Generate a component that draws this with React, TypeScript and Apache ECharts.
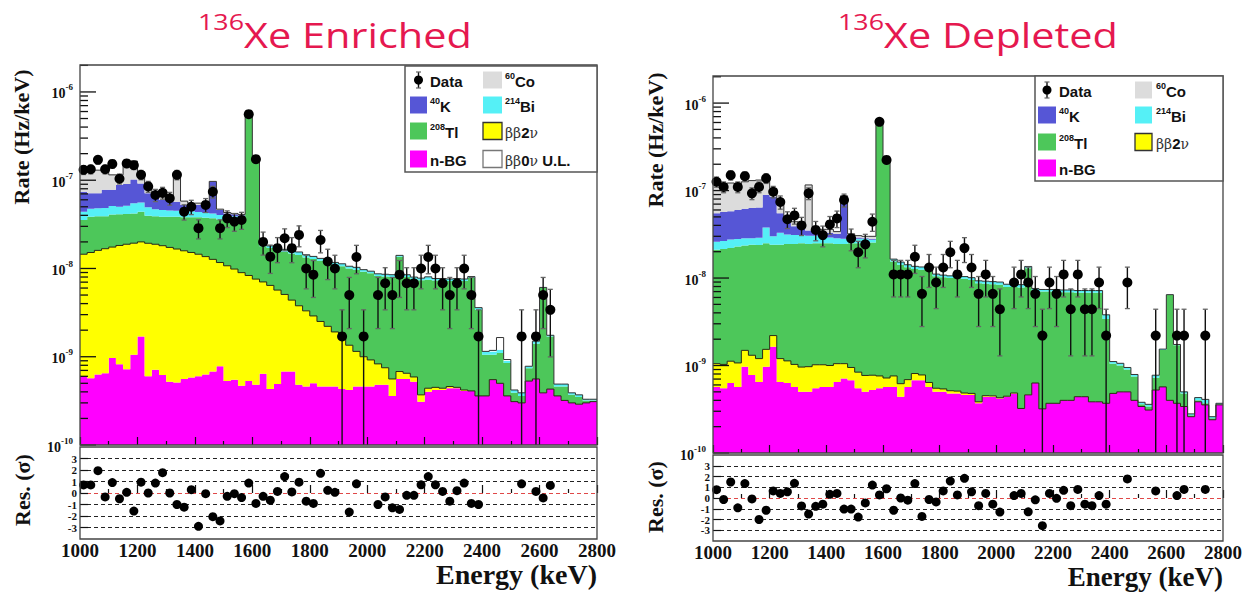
import { useEffect, useRef } from 'react';
import * as echarts from 'echarts';

// Energy binning shared by both spectra
const E_MIN = 1000;
const E_MAX = 2800;
const BIN_WIDTH = 25;
const N_BINS = 72;
// All rate arrays below are in units of 1e-10 Hz/keV
const RATE_UNIT = 1e-10;
const Y_MIN = 1e-10;

// ---------- 136Xe enriched ----------
const enrNBG = [
  6.0, 5.7, 6.3, 6.5, 9.7, 8.2, 7.2, 10.5, 17, 6.0,
  7.1, 6.2, 5.2, 5.1, 5.6, 5.8, 6.0, 6.3, 6.8, 7.8,
  5.3, 5.5, 4.7, 5.3, 4.8, 6.4, 4.3, 4.9, 6.8, 6.8,
  4.8, 4.6, 5.0, 4.6, 4.6, 4.6, 4.3, 4.2, 4.6, 4.6,
  4.6, 4.8, 4.8, 3.6, 5.6, 5.6, 5.2, 3.1, 4.0, 4.2,
  4.2, 4.4, 4.4, 4.1, 4.1, 3.6, 3.6, 5.5, 5.0, 3.6,
  3.1, 3.0, 5.3, 5.6, 3.9, 4.3, 3.6, 3.2, 3.0, 2.9,
  3.0, 3.1,
];
const enrBB2v = [
  139, 146, 154, 161, 165, 174, 181, 183, 183, 187,
  181, 175, 168, 161, 153, 146, 139, 130, 120, 109,
  102, 93, 85, 78, 71, 64, 60, 52, 44, 37,
  33, 28.5, 24, 20.5, 17.5, 14.5, 11.7, 9.3, 6.9, 5.4,
  4.6, 3.5, 2.7, 2.0, 1.2, 0.9, 0.7, 0.6, 0.4, 0.3,
  0.2, 0.2, 0.1, 0.1, 0, 0, 0, 0, 0, 0,
  0, 0, 0, 0, 0, 0, 0, 0, 0, 0,
  0, 0,
];
const enrTl208 = [
  210, 233, 230, 222, 235, 228, 227, 226, 240, 202,
  202, 204, 212, 219, 221, 228, 235, 239, 243, 243,
  253, 257, 265, 5420, 1700, 108, 106, 105, 104, 104,
  104, 100, 99, 97, 96, 91, 90, 86.5, 85.5, 82,
  79, 73.7, 73.5, 74.4, 129, 73.5, 70, 70, 70, 68.5,
  68.6, 67.4, 68.5, 67.8, 73.9, 30.4, 6.9, 5.0, 6.0, 4.9,
  0.8, 0.6, 2.1, 8.4, 56.1, 12.7, 1.0, 1.4, 0.7, 0.6,
  0.2, 0.1,
];
const enrBi214 = [
  85, 90, 90, 95, 100, 90, 100, 130, 120, 100,
  80, 75, 70, 65, 60, 65, 55, 50, 50, 45,
  40, 35, 30, 30, 20, 12, 10, 10, 10, 10,
  12, 10, 9, 8, 8, 7, 7, 6, 6, 5,
  5, 5, 5, 5, 5, 5, 4, 4, 6, 4,
  4, 4, 4, 4, 3, 2, 1, 1, 1, 0.5,
  0.3, 0.3, 0.4, 1, 1, 0.5, 0.3, 0.3, 0.2, 0.2,
  0.1, 0.1,
];
const enrK40 = [
  300, 235, 230, 295, 270, 385, 390, 470, 360, 215,
  180, 140, 145, 120, 85, 80, 90, 75, 540, 55,
  20, 20, 15, 0, 0, 0, 0, 0, 0, 0,
  0, 0, 0, 0, 0, 0, 0, 0, 0, 0,
  0, 0, 0, 0, 0, 0, 0, 0, 0, 0,
  0, 0, 0, 0, 0, 0, 0, 0, 0, 0,
  0, 0, 0, 0, 0, 0, 0, 0, 0, 0,
  0, 0,
];
const enrCo60 = [
  510, 540, 590, 520, 370, 265, 745, 630, 330, 140,
  70, 80, 30, 630, 55, 25, 25, 20, 10, 10,
  10, 10, 10, 0, 0, 0, 0, 0, 0, 0,
  0, 0, 0, 0, 0, 0, 0, 0, 0, 0,
  0, 0, 0, 0, 0, 0, 0, 0, 0, 0,
  0, 0, 0, 0, 0, 0, 0, 0, 0, 0,
  0, 0, 0, 0, 0, 0, 0, 0, 0, 0,
  0, 0,
];
const enrBB0vUL = [
  0, 0, 0, 0, 0, 0, 0, 0, 0, 0,
  0, 0, 0, 0, 0, 0, 0, 0, 0, 0,
  0, 0, 0, 0, 0, 0, 0, 0, 0, 0,
  0, 0, 0, 0, 0, 0, 0, 0, 0, 0,
  0, 0, 0, 0, 0, 0, 0, 0, 0, 0,
  0, 0, 0, 0, 0, 0, 0, 0.3, 4.5, 0.3,
  0, 0, 0, 0, 0, 0, 0, 0, 0, 0,
  0, 0,
];
const enrData = [
  1310, 1330, 1700, 1330, 1530, 1040, 1550, 1480, 1150, 850,
  680, 720, 625, 1150, 440, 500, 286, 525, 740, 286,
  370, 340, 355, 5600, 1730, 200, 136, 170, 220, 170,
  240, 100, 85, 210, 120, 100, 17, 50, 135, 17,
  null, 50, 68, 50, 85, 68, 68, 100, 135, 100,
  68, 50, 68, 100, 50, 17, null, null, null, null,
  null, 17, null, 17, 50, 34, null, null, null, null,
  null, null,
];
const enrResidual = [
  0.7, 0.7, 1.94, -0.34, 0.91, -0.5, 0.06, -1.57, 0.94, 0,
  0.86, 1.77, 0, -1.0, -1.23, 0.29, -2.9, -0.06, -2.06, -2.43,
  -0.29, -0.06, -0.4, 0.86, -0.91, -0.29, -0.63, 0.14, 1.43, 0.09,
  0.94, -0.71, -0.91, 1.71, 0.23, 0.06, null, -1.66, 0.8, null,
  null, -1.0, -0.34, -1.29, -1.43, -0.2, -0.2, 0.71, 1.43, 0.71,
  0.14, -0.71, 0.2, 0.86, -0.91, -1.0, null, null, null, null,
  null, 0.8, null, 0.14, -0.43, 0.66, null, null, null, null,
  null, null,
];
// rate contributed by a single event in one bin
const ENR_RATE_PER_COUNT = 17;
const ENR_Y_MAX = 2.02e-6;

// ---------- 136Xe depleted ----------
const depNBG = [
  5.7, 5.5, 6.3, 5.7, 9.7, 7.8, 6.5, 9.7, 16.4, 6.5,
  6.3, 5.7, 5.0, 5.0, 5.5, 5.7, 5.7, 6.5, 7.1, 6.8,
  5.5, 5.0, 5.25, 5.5, 5.7, 5.7, 4.4, 5.7, 6.8, 6.8,
  5.7, 5.0, 5.0, 4.8, 4.8, 4.6, 4.6, 3.7, 4.4, 4.4,
  4.2, 4.4, 4.8, 3.2, 4.6, 6.3, 3.2, 3.7, 3.7, 4.0,
  4.0, 4.4, 4.4, 3.85, 3.85, 3.7, 4.8, 5.0, 5.0, 4.0,
  3.4, 3.1, 5.25, 5.7, 4.0, 3.7, 3.4, 2.6, 3.85, 3.55,
  2.4, 3.55,
];
const depBB2v = [
  4.8, 4.8, 4.9, 5.0, 5.2, 5.3, 5.5, 5.6, 5.6, 5.5,
  5.0, 4.6, 4.6, 4.7, 4.7, 4.5, 4.3, 4.0, 3.4, 2.7,
  2.9, 2.7, 2.5, 2.1, 1.5, 1.9, 1.8, 1.2, 1.3, 1.0,
  0.7, 0.5, 0.4, 0.35, 0.3, 0.25, 0.2, 0.15, 0.12, 0.1,
  0.08, 0.06, 0.05, 0.03, 0.02, 0.01, 0, 0, 0, 0,
  0, 0, 0, 0, 0, 0, 0, 0, 0, 0,
  0, 0, 0, 0, 0, 0, 0, 0, 0, 0,
  0, 0,
];
const depTl208 = [
  200, 205, 209, 219, 220, 227, 227, 234, 218, 228,
  234, 235, 240, 235, 239, 240, 240, 234, 235, 241,
  242, 247, 247, 6080, 2220, 147, 136, 126, 119, 117,
  119, 99.5, 96.6, 94.8, 94.9, 93.1, 90.2, 83.1, 81.5, 80.5,
  79.7, 74.5, 74.1, 74.8, 125, 65.7, 66.8, 66.3, 66.3, 65,
  65, 63.6, 63.6, 64.1, 64.1, 30.3, 5.7, 5.0, 4.0, 3.5,
  0.2, 0.3, 2.0, 9.3, 60, 13.3, 1.4, 0.1, 0.15, 0.15,
  0.1, 0.05,
];
const depBi214 = [
  50, 50, 55, 50, 50, 45, 50, 130, 60, 90,
  70, 65, 60, 60, 55, 60, 40, 40, 35, 30,
  30, 25, 20, 30, 20, 10, 10, 9, 9, 9,
  10, 6, 6, 6, 6, 6, 6, 6, 6, 6,
  6, 6, 6, 6, 6, 4, 4, 4, 4, 4,
  4, 4, 4, 4, 4, 4, 0.6, 0.6, 0.5, 0.4,
  0.2, 0.2, 0.5, 0.4, 0.6, 0.4, 0.2, 0.1, 0.3, 0.4,
  0.1, 0.1,
];
const depK40 = [
  290, 305, 305, 320, 335, 345, 350, 510, 550, 220,
  115, 80, 60, 45, 35, 30, 40, 35, 570, 20,
  10, 5, 5, 0, 0, 0, 0, 0, 0, 0,
  0, 0, 0, 0, 0, 0, 0, 0, 0, 0,
  0, 0, 0, 0, 0, 0, 0, 0, 0, 0,
  0, 0, 0, 0, 0, 0, 0, 0, 0, 0,
  0, 0, 0, 0, 0, 0, 0, 0, 0, 0,
  0, 0,
];
const depCo60 = [
  670, 630, 640, 560, 640, 670, 680, 560, 210, 230,
  50, 50, 30, 810, 30, 20, 30, 20, 20, 20,
  15, 15, 20, 0, 0, 0, 0, 0, 0, 0,
  0, 0, 0, 0, 0, 0, 0, 0, 0, 0,
  0, 0, 0, 0, 0, 0, 0, 0, 0, 0,
  0, 0, 0, 0, 0, 0, 0, 0, 0, 0,
  0, 0, 0, 0, 0, 0, 0, 0, 0, 0,
  0, 0,
];
const depData = [
  1260, 1100, 1500, 1100, 1460, 930, 1100, 1380, 970, 740,
  470, 520, 400, 930, 355, 310, 410, 480, 780, 284,
  197, 243, 440, 6100, 2240, 110, 110, 110, 175, 66,
  132, 89, 132, 197, 110, 220, 132, 66, 110, 66,
  44, null, 89, 110, 89, 66, 22, 89, 66, 110,
  44, 110, 44, 44, 89, 22, null, null, 89, null,
  null, null, 22, null, null, 22, 22, null, null, 22,
  null, null,
];
const depResidual = [
  0.77, -0.14, 1.49, -0.91, 1.34, -0.09, -2.0, -1.14, 0.66, 0.43,
  0.57, 1.37, -0.74, -1.49, -0.77, -0.57, 0.34, 0.43, -1.03, -1.03,
  -1.77, -0.46, 1.2, 0.29, 0.86, -1.14, 0, -0.2, 1.34, -1.71,
  -0.14, -0.37, 0.66, 1.57, 0.29, 1.83, 0.57, -0.71, 0.43, -0.57,
  -1.31, null, 0.23, 0.43, -1.29, -0.17, -2.57, 0.43, -0.03, 0.71,
  -0.71, 0.8, -0.57, -0.71, 0.23, -0.57, null, null, 1.77, null,
  null, null, 0.66, null, null, 0.23, 0.8, null, null, 0.8,
  null, null,
];
const DEP_RATE_PER_COUNT = 22;
const DEP_Y_MAX = 2.04e-6;

const COLORS = {
  nbg: '#ff00ff',
  bb2v: '#ffff00',
  tl208: '#4dc75a',
  bi214: '#55f0f6',
  k40: '#5656d6',
  co60: '#dcdcdc',
  bb0v: '#ffffff',
};

const SERIF = '"Liberation Serif", "DejaVu Serif", serif';
const SANS = '"Liberation Sans", "DejaVu Sans", sans-serif';
const TITLE_FONT = '"Open Sans", "Noto Sans", sans-serif';
const TITLE_COLOR = '#e5184f';

const binEdge = (i: number) => E_MIN + i * BIN_WIDTH;
const binCenter = (i: number) => E_MIN + (i + 0.5) * BIN_WIDTH;

type Layer = { values: number[]; color: string };

function stackTops(layers: Layer[]): number[][] {
  const tops: number[][] = [];
  let prev = layers[0].values.map(() => 0);
  for (const l of layers) {
    const t = prev.map((v, i) => v + l.values[i]);
    tops.push(t);
    prev = t;
  }
  return tops.map((t) => t.map((v) => v * RATE_UNIT));
}

function layerSeries(ax: number, lower: number[], upper: number[], fill: string) {
  return {
    type: 'custom',
    xAxisIndex: ax,
    yAxisIndex: ax,
    silent: true,
    z: 1,
    data: [[1900, 1e-8]],
    renderItem: (_p: any, api: any) => {
      const pts: number[][] = [];
      for (let i = 0; i < N_BINS; i++) {
        const v = Math.max(upper[i], Y_MIN);
        pts.push(api.coord([binEdge(i), v]), api.coord([binEdge(i + 1), v]));
      }
      for (let i = N_BINS - 1; i >= 0; i--) {
        const v = Math.max(lower[i], Y_MIN);
        pts.push(api.coord([binEdge(i + 1), v]), api.coord([binEdge(i), v]));
      }
      return { type: 'polygon', shape: { points: pts }, style: { fill, stroke: null } };
    },
  };
}

function outlineSeries(ax: number, top: number[], color: string, width: number) {
  return {
    type: 'custom',
    xAxisIndex: ax,
    yAxisIndex: ax,
    silent: true,
    z: 2,
    data: [[1900, 1e-8]],
    renderItem: (_p: any, api: any) => {
      const pts: number[][] = [];
      for (let i = 0; i < N_BINS; i++) {
        const v = Math.max(top[i], Y_MIN);
        pts.push(api.coord([binEdge(i), v]), api.coord([binEdge(i + 1), v]));
      }
      return {
        type: 'polyline',
        shape: { points: pts },
        style: { stroke: color, lineWidth: width, fill: null },
      };
    },
  };
}

// ROOT-style logarithmic ticks on the left edge of the frame
function logTickSeries(ax: number, yMax: number) {
  return {
    type: 'custom',
    xAxisIndex: ax,
    yAxisIndex: ax,
    silent: true,
    z: 6,
    data: [[1900, 1e-8]],
    renderItem: (_p: any, api: any) => {
      const children: any[] = [];
      for (let e = -10; e <= -6; e++) {
        for (let m = 1; m <= 9; m++) {
          const v = m * Math.pow(10, e);
          if (v > yMax) continue;
          const p = api.coord([E_MIN, v]);
          const len = m === 1 ? 16 : 8;
          children.push({
            type: 'line',
            shape: { x1: p[0], y1: p[1], x2: p[0] + len, y2: p[1] },
            style: { stroke: '#111', lineWidth: 1.3 },
          });
        }
      }
      return { type: 'group', children };
    },
  };
}

function errorBarSeries(ax: number, data: (number | null)[], perCount: number) {
  const items: number[][] = [];
  data.forEach((v, i) => {
    if (v == null) return;
    const n = v / perCount;
    const s = Math.sqrt(n);
    items.push([binCenter(i), v * RATE_UNIT, (n - s) * perCount * RATE_UNIT, (n + s) * perCount * RATE_UNIT]);
  });
  return {
    type: 'custom',
    xAxisIndex: ax,
    yAxisIndex: ax,
    silent: true,
    z: 3,
    data: items,
    renderItem: (_p: any, api: any) => {
      const x = api.value(0);
      const lo = api.value(2);
      const hi = api.value(3);
      const top = api.coord([x, hi]);
      const bot = api.coord([x, Math.max(lo, Y_MIN)]);
      const children: any[] = [
        {
          type: 'line',
          shape: { x1: top[0], y1: top[1], x2: bot[0], y2: bot[1] },
          style: { stroke: '#111', lineWidth: 1.4 },
        },
        {
          type: 'line',
          shape: { x1: top[0] - 2.5, y1: top[1], x2: top[0] + 2.5, y2: top[1] },
          style: { stroke: '#666', lineWidth: 1.3 },
        },
      ];
      if (lo > Y_MIN) {
        children.push({
          type: 'line',
          shape: { x1: bot[0] - 2.5, y1: bot[1], x2: bot[0] + 2.5, y2: bot[1] },
          style: { stroke: '#666', lineWidth: 1.3 },
        });
      }
      return { type: 'group', children };
    },
  };
}

function panelSeries(
  ax: number,
  rax: number,
  layers: Layer[],
  data: (number | null)[],
  perCount: number,
  residual: (number | null)[],
  yMax: number,
) {
  const tops = stackTops(layers);
  const series: any[] = [];
  layers.forEach((l, k) => {
    const upper = tops[k];
    const lower = k === 0 ? upper.map(() => Y_MIN) : tops[k - 1];
    series.push(layerSeries(ax, lower, upper, l.color));
  });
  series.push(outlineSeries(ax, tops[1], '#2a2a10', 1));
  series.push(outlineSeries(ax, tops[tops.length - 1], '#333', 1));
  series.push(logTickSeries(ax, yMax));
  series.push(errorBarSeries(ax, data, perCount));
  const pts: number[][] = [];
  data.forEach((v, i) => {
    if (v != null) pts.push([binCenter(i), v * RATE_UNIT]);
  });
  series.push({
    type: 'scatter',
    xAxisIndex: ax,
    yAxisIndex: ax,
    data: pts,
    symbol: 'circle',
    symbolSize: 10,
    itemStyle: { color: '#000', opacity: 1 },
    silent: true,
    z: 4,
  });
  const rpts: number[][] = [];
  residual.forEach((v, i) => {
    if (v != null) rpts.push([binCenter(i), v]);
  });
  series.push({
    type: 'scatter',
    xAxisIndex: rax,
    yAxisIndex: rax,
    data: rpts,
    symbol: 'circle',
    symbolSize: 9,
    itemStyle: { color: '#000', opacity: 1 },
    silent: true,
    z: 4,
  });
  return series;
}

function mainXAxis(gi: number) {
  return {
    type: 'value',
    gridIndex: gi,
    min: E_MIN,
    max: E_MAX,
    interval: 200,
    z: 6,
    axisLine: { show: false },
    axisTick: { show: true, inside: true, length: 8, lineStyle: { color: '#111', width: 1.2 } },
    minorTick: { show: true, splitNumber: 2, length: 4, lineStyle: { color: '#111', width: 1.2 } },
    axisLabel: { show: false },
    splitLine: { show: false },
  };
}

function resXAxis(gi: number) {
  return {
    type: 'value',
    gridIndex: gi,
    min: E_MIN,
    max: E_MAX,
    interval: 200,
    axisLine: { show: false },
    axisTick: { show: true, inside: true, length: 8, lineStyle: { color: '#111', width: 1.2 } },
    minorTick: { show: true, splitNumber: 2, length: 4, lineStyle: { color: '#111', width: 1.2 } },
    axisLabel: {
      show: true,
      margin: 2,
      fontFamily: SERIF,
      fontWeight: 'bold',
      fontSize: 19,
      color: '#111',
      formatter: (v: number) => String(v),
    },
    splitLine: { show: false },
  };
}

function mainYAxis(gi: number, yMax: number) {
  return {
    type: 'log',
    logBase: 10,
    gridIndex: gi,
    min: Y_MIN,
    max: yMax,
    z: 6,
    axisLine: { show: false },
    axisTick: { show: false },
    splitLine: { show: false },
    axisLabel: {
      show: true,
      margin: 7,
      showMaxLabel: false,
      formatter: (v: number) => {
        const e = Math.log10(v);
        const r = Math.round(e);
        if (Math.abs(e - r) > 1e-6) return '';
        return `{b|10}{s|${r}}`;
      },
      rich: {
        b: { fontFamily: SERIF, fontWeight: 'bold', fontSize: 14, color: '#111', lineHeight: 18, verticalAlign: 'bottom' },
        s: { fontFamily: SERIF, fontWeight: 'bold', fontSize: 9, color: '#111', lineHeight: 9, verticalAlign: 'top' },
      },
    },
  };
}

function resYAxis(gi: number) {
  return {
    type: 'value',
    gridIndex: gi,
    min: -4,
    max: 4,
    interval: 1,
    axisLine: { show: false },
    axisTick: { show: true, inside: true, length: 8, lineStyle: { color: '#111', width: 1.2 } },
    axisLabel: {
      show: true,
      margin: 3,
      showMinLabel: false,
      showMaxLabel: false,
      fontFamily: SERIF,
      fontWeight: 'bold',
      fontSize: 11,
      color: '#111',
    },
    splitLine: {
      show: true,
      lineStyle: {
        color: ['rgba(0,0,0,0)', '#222', '#222', '#222', '#e04848', '#222', '#222', '#222', 'rgba(0,0,0,0)'],
        type: [4, 3],
        width: 1,
      },
    },
  };
}

const legendRich = {
  b: { fontFamily: SANS, fontWeight: 'bold', fontSize: 15, fill: '#111', lineHeight: 18, verticalAlign: 'bottom' },
  s: { fontFamily: SANS, fontWeight: 'bold', fontSize: 9, fill: '#111', lineHeight: 8, verticalAlign: 'top' },
  g: { fontFamily: '"DejaVu Serif", serif', fontSize: 14, fill: '#333', lineHeight: 18, verticalAlign: 'bottom' },
};

type LegendItem = { kind: 'data' | 'swatch'; color?: string; border?: string; text: string };

function legendGraphics(
  bx: number,
  by: number,
  w: number,
  h: number,
  rowY: number[],
  cols: { sx: number; sw: number; tx: number }[],
  items: (LegendItem | null)[][],
) {
  const els: any[] = [
    {
      type: 'rect',
      shape: { x: bx, y: by, width: w, height: h },
      style: { fill: '#fff', stroke: '#555', lineWidth: 1.5 },
      z: 110,
      silent: true,
    },
  ];
  items.forEach((row, r) => {
    row.forEach((it, c) => {
      if (!it) return;
      const cy = by + rowY[r];
      const col = cols[c];
      if (it.kind === 'data') {
        const cx = bx + col.sx + col.sw / 2;
        els.push(
          { type: 'line', shape: { x1: cx, y1: cy - 8, x2: cx, y2: cy + 8 }, style: { stroke: '#111', lineWidth: 1.4 }, z: 111, silent: true },
          { type: 'line', shape: { x1: cx - 2.5, y1: cy - 8, x2: cx + 2.5, y2: cy - 8 }, style: { stroke: '#666', lineWidth: 1.2 }, z: 111, silent: true },
          { type: 'line', shape: { x1: cx - 2.5, y1: cy + 8, x2: cx + 2.5, y2: cy + 8 }, style: { stroke: '#666', lineWidth: 1.2 }, z: 111, silent: true },
          { type: 'circle', shape: { cx, cy, r: 4.5 }, style: { fill: '#000' }, z: 112, silent: true },
        );
      } else {
        els.push({
          type: 'rect',
          shape: { x: bx + col.sx, y: cy - 8.5, width: col.sw, height: 17 },
          style: { fill: it.color, stroke: it.border || null, lineWidth: it.border ? 1.3 : 0 },
          z: 111,
          silent: true,
        });
      }
      els.push({
        type: 'text',
        x: bx + col.tx,
        y: cy,
        z: 112,
        silent: true,
        style: { text: it.text, rich: legendRich, align: 'left', verticalAlign: 'middle' },
      });
    });
  });
  return els;
}

const titleRich = {
  s: { fontFamily: TITLE_FONT, fontWeight: 400, fontSize: 22, fill: TITLE_COLOR, lineHeight: 26, verticalAlign: 'top' },
  b: { fontFamily: TITLE_FONT, fontWeight: 400, fontSize: 34, fill: TITLE_COLOR, lineHeight: 42, verticalAlign: 'bottom' },
};

function titleText(x: number, text: string) {
  return {
    type: 'text',
    x,
    y: 10,
    scaleX: 1.22,
    silent: true,
    style: { text: `{s|136}{b|${text}}`, rich: titleRich, align: 'left', verticalAlign: 'top' },
  };
}

function axisTitle(x: number, y: number, text: string, size: number, rotated: boolean, align = 'center') {
  return {
    type: 'text',
    x,
    y,
    rotation: rotated ? Math.PI / 2 : 0,
    silent: true,
    style: {
      text,
      font: `bold ${size}px ${SERIF}`,
      fill: '#111',
      align,
      verticalAlign: 'middle',
    },
  };
}

function frame(x: number, y: number, w: number, h: number) {
  return {
    type: 'rect',
    shape: { x, y, width: w, height: h },
    style: { fill: null, stroke: '#444', lineWidth: 1.3 },
    z: 100,
    silent: true,
  };
}

const G_LM = { left: 80, top: 65, width: 517, height: 380 };
const G_LR = { left: 80, top: 447, width: 517, height: 92 };
const G_RM = { left: 713, top: 76, width: 510, height: 377 };
const G_RR = { left: 713, top: 455, width: 510, height: 86 };

function buildOption() {
  const enrLayers: Layer[] = [
    { values: enrNBG, color: COLORS.nbg },
    { values: enrBB2v, color: COLORS.bb2v },
    { values: enrTl208, color: COLORS.tl208 },
    { values: enrBi214, color: COLORS.bi214 },
    { values: enrK40, color: COLORS.k40 },
    { values: enrCo60, color: COLORS.co60 },
    { values: enrBB0vUL, color: COLORS.bb0v },
  ];
  const depLayers: Layer[] = [
    { values: depNBG, color: COLORS.nbg },
    { values: depBB2v, color: COLORS.bb2v },
    { values: depTl208, color: COLORS.tl208 },
    { values: depBi214, color: COLORS.bi214 },
    { values: depK40, color: COLORS.k40 },
    { values: depCo60, color: COLORS.co60 },
  ];

  const gridOf = (g: any) => ({ ...g, show: false, containLabel: false, outerBoundsMode: 'none' });

  const colsL = [
    { sx: 5, sw: 17, tx: 25 },
    { sx: 78, sw: 19, tx: 100 },
  ];
  const colsR = [
    { sx: 3, sw: 18, tx: 24 },
    { sx: 100, sw: 17, tx: 121 },
  ];
  const itemsL: (LegendItem | null)[][] = [
    [{ kind: 'data', text: '{b|Data}' }, { kind: 'swatch', color: COLORS.co60, text: '{s|60}{b|Co}' }],
    [{ kind: 'swatch', color: COLORS.k40, text: '{s|40}{b|K}' }, { kind: 'swatch', color: COLORS.bi214, text: '{s|214}{b|Bi}' }],
    [{ kind: 'swatch', color: COLORS.tl208, text: '{s|208}{b|Tl}' }, { kind: 'swatch', color: COLORS.bb2v, border: '#333', text: '{g|ββ}{b|2}{g|ν}' }],
    [{ kind: 'swatch', color: COLORS.nbg, text: '{b|n-BG}' }, { kind: 'swatch', color: '#fff', border: '#777', text: '{g|ββ}{b|0}{g|ν}{b| U.L.}' }],
  ];
  const itemsR: (LegendItem | null)[][] = [
    [{ kind: 'data', text: '{b|Data}' }, { kind: 'swatch', color: COLORS.co60, text: '{s|60}{b|Co}' }],
    [{ kind: 'swatch', color: COLORS.k40, text: '{s|40}{b|K}' }, { kind: 'swatch', color: COLORS.bi214, text: '{s|214}{b|Bi}' }],
    [{ kind: 'swatch', color: COLORS.tl208, text: '{s|208}{b|Tl}' }, { kind: 'swatch', color: COLORS.bb2v, border: '#333', text: '{g|ββ}{b|2}{g|ν}' }],
    [{ kind: 'swatch', color: COLORS.nbg, text: '{b|n-BG}' }, null],
  ];

  return {
    animation: false,
    backgroundColor: '#ffffff',
    grid: [gridOf(G_LM), gridOf(G_LR), gridOf(G_RM), gridOf(G_RR)],
    xAxis: [mainXAxis(0), resXAxis(1), mainXAxis(2), resXAxis(3)],
    yAxis: [mainYAxis(0, ENR_Y_MAX), resYAxis(1), mainYAxis(2, DEP_Y_MAX), resYAxis(3)],
    series: [
      ...panelSeries(0, 1, enrLayers, enrData, ENR_RATE_PER_COUNT, enrResidual, ENR_Y_MAX),
      ...panelSeries(2, 3, depLayers, depData, DEP_RATE_PER_COUNT, depResidual, DEP_Y_MAX),
    ],
    graphic: {
      elements: [
        titleText(198, 'Xe Enriched'),
        titleText(838, 'Xe Depleted'),
        axisTitle(21, 137, 'Rate (Hz/keV)', 22, true),
        axisTitle(655, 140, 'Rate (Hz/keV)', 22, true),
        axisTitle(22, 490, 'Res. (σ)', 22, true),
        axisTitle(655, 497, 'Res. (σ)', 22, true),
        axisTitle(597, 574, 'Energy (keV)', 28, false, 'right'),
        axisTitle(1223, 577, 'Energy (keV)', 27, false, 'right'),
        frame(G_LM.left, G_LM.top, G_LM.width, G_LM.height),
        frame(G_LR.left, G_LR.top, G_LR.width, G_LR.height),
        frame(G_RM.left, G_RM.top, G_RM.width, G_RM.height),
        frame(G_RR.left, G_RR.top, G_RR.width, G_RR.height),
        ...legendGraphics(405, 66, 192, 106, [14, 39, 65, 93], colsL, itemsL),
        ...legendGraphics(1035, 76, 188, 105, [14, 39, 66, 92], colsR, itemsR),
      ],
    },
  };
}

export default function App() {
  const ref = useRef<HTMLDivElement>(null);
  useEffect(() => {
    if (!ref.current) return;
    const chart = echarts.init(ref.current, null, { renderer: 'svg' });
    chart.setOption(buildOption() as any);
    return () => chart.dispose();
  }, []);
  return (
    <div
      ref={ref}
      style={{ position: 'absolute', left: 0, top: 0, width: 1250, height: 592, background: '#fff' }}
    />
  );
}
